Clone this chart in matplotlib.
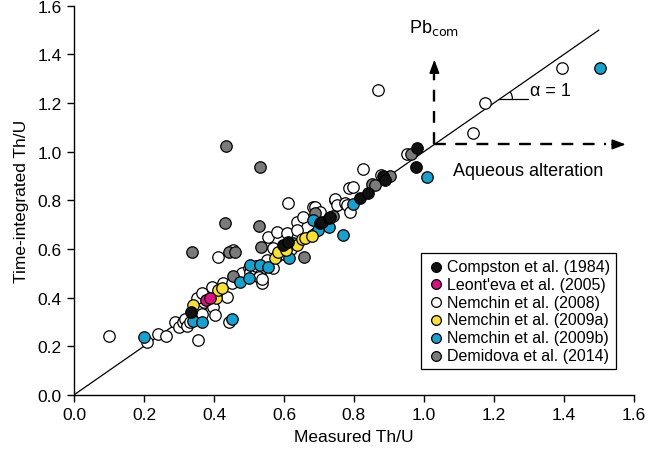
import matplotlib
matplotlib.use("Agg")
import matplotlib.pyplot as plt
from matplotlib.patches import Arc

plt.rcParams['font.family'] = ['Liberation Sans', 'DejaVu Sans']

# Compston et al. (1984)
comp_x = [0.334, 0.597, 0.611, 0.703, 0.709, 0.729, 0.731, 0.817, 0.840, 0.883, 0.889, 0.977, 0.980]
comp_y = [0.339, 0.616, 0.629, 0.706, 0.712, 0.727, 0.731, 0.808, 0.829, 0.900, 0.882, 0.939, 1.016]

# Leont'eva et al. (2005)
leon_x = [0.378, 0.388]
leon_y = [0.392, 0.398]

# Nemchin et al. (2008)
n08_x = [0.100, 0.209, 0.240, 0.263, 0.289, 0.300, 0.310, 0.317, 0.323, 0.330, 0.340, 0.354,
         0.360, 0.366, 0.370, 0.351, 0.366, 0.394, 0.397, 0.403, 0.420, 0.437, 0.443, 0.426,
         0.451, 0.411, 0.454, 0.470, 0.480, 0.500, 0.503, 0.520, 0.520, 0.531, 0.530, 0.537,
         0.537, 0.551, 0.569, 0.569, 0.580, 0.554, 0.580, 0.600, 0.600, 0.609, 0.617, 0.620,
         0.611, 0.637, 0.637, 0.654, 0.683, 0.689, 0.703, 0.746, 0.746, 0.751, 0.774, 0.780,
         0.789, 0.786, 0.797, 0.826, 0.869, 0.877, 0.951, 1.140, 1.174, 1.394]
n08_y = [0.241, 0.216, 0.249, 0.241, 0.298, 0.280, 0.300, 0.310, 0.282, 0.300, 0.340, 0.225,
         0.360, 0.331, 0.380, 0.400, 0.420, 0.445, 0.363, 0.327, 0.420, 0.404, 0.298, 0.461,
         0.461, 0.567, 0.596, 0.480, 0.500, 0.520, 0.506, 0.510, 0.530, 0.494, 0.485, 0.461,
         0.475, 0.555, 0.522, 0.604, 0.570, 0.649, 0.669, 0.600, 0.580, 0.665, 0.608, 0.600,
         0.788, 0.710, 0.678, 0.731, 0.771, 0.771, 0.751, 0.800, 0.804, 0.780, 0.788, 0.780,
         0.751, 0.849, 0.853, 0.927, 1.253, 0.906, 0.992, 1.078, 1.200, 1.343]

# Nemchin et al. (2009a)
n09a_x = [0.340, 0.407, 0.411, 0.423, 0.574, 0.583, 0.607, 0.637, 0.651, 0.660, 0.680]
n09a_y = [0.371, 0.400, 0.433, 0.440, 0.563, 0.588, 0.596, 0.616, 0.641, 0.645, 0.653]

# Nemchin et al. (2009b)
n09b_x = [0.200, 0.340, 0.366, 0.451, 0.474, 0.500, 0.503, 0.531, 0.554, 0.614, 0.626,
          0.683, 0.697, 0.729, 0.769, 0.797, 1.009, 1.503]
n09b_y = [0.237, 0.302, 0.298, 0.310, 0.465, 0.482, 0.535, 0.535, 0.527, 0.563, 0.624,
          0.718, 0.678, 0.690, 0.657, 0.784, 0.894, 1.343]

# Demidova et al. (2014)
dem_x = [0.434, 0.531, 0.431, 0.529, 0.337, 0.443, 0.460, 0.534, 0.657, 0.690, 0.740,
         0.454, 0.851, 0.860, 0.903, 0.963]
dem_y = [1.022, 0.937, 0.708, 0.696, 0.586, 0.588, 0.588, 0.608, 0.567, 0.747, 0.735,
         0.490, 0.869, 0.865, 0.898, 0.992]

series = [
    (n08_x, n08_y, "white", "Nemchin et al. (2008)"),
    (dem_x, dem_y, "#7a7a7a", "Demidova et al. (2014)"),
    (n09b_x, n09b_y, "#1aa0cc", "Nemchin et al. (2009b)"),
    (n09a_x, n09a_y, "#f7e03a", "Nemchin et al. (2009a)"),
    (leon_x, leon_y, "#d4147f", "Leont'eva et al. (2005)"),
    (comp_x, comp_y, "#111111", "Compston et al. (1984)"),
]
legend_order = ["Compston et al. (1984)", "Leont'eva et al. (2005)", "Nemchin et al. (2008)",
                "Nemchin et al. (2009a)", "Nemchin et al. (2009b)", "Demidova et al. (2014)"]

fig = plt.figure(figsize=(6.5, 4.56), dpi=100)
ax = fig.add_axes([0.114, 0.132, 0.861, 0.853])

ax.plot([0, 1.5], [0, 1.5], color="black", lw=0.9, zorder=1)

handles = {}
for xs, ys, c, lab in series:
    h = ax.scatter(xs, ys, s=68, c=c, edgecolors="black", linewidths=0.9, zorder=3, label=lab)
    handles[lab] = h

# dashed arrows
ax.plot([1.03, 1.03], [1.03, 1.34], ls=(0, (5, 4)), color="black", lw=1.7, zorder=2)
ax.plot([1.03, 1.52], [1.03, 1.03], ls=(0, (5, 4)), color="black", lw=1.7, zorder=2)
ax.annotate("", xy=(1.03, 1.39), xytext=(1.03, 1.33),
            arrowprops=dict(arrowstyle="-|>,head_length=0.8,head_width=0.3", color="black", lw=1.2))
ax.annotate("", xy=(1.585, 1.03), xytext=(1.53, 1.03),
            arrowprops=dict(arrowstyle="-|>,head_length=0.8,head_width=0.3", color="black", lw=1.2))

ax.text(1.03, 1.47, r"Pb$_{\rm com}$", fontsize=13, ha="center", va="bottom")
ax.text(1.083, 0.922, "Aqueous alteration", fontsize=13, ha="left", va="center")

# angle mark
ax.plot([1.216, 1.297], [1.216, 1.216], color="black", lw=0.9)
ax.add_patch(Arc((1.216, 1.216), 26 / 350, 26 / 245, theta1=0, theta2=45,
                 color="black", lw=0.9))
ax.text(1.302, 1.25, "α = 1", fontsize=13, ha="left", va="center")

ax.set_xlim(0, 1.6)
ax.set_ylim(0, 1.6)
ax.set_xticks([0.0, 0.2, 0.4, 0.6, 0.8, 1.0, 1.2, 1.4, 1.6])
ax.set_yticks([0.0, 0.2, 0.4, 0.6, 0.8, 1.0, 1.2, 1.4, 1.6])
ax.set_xticklabels([f"{v:.1f}" for v in ax.get_xticks()])
ax.set_yticklabels([f"{v:.1f}" for v in ax.get_yticks()])
ax.spines["top"].set_visible(False)
ax.spines["right"].set_visible(False)
for sp in ("left", "bottom"):
    ax.spines[sp].set_linewidth(1.0)
ax.tick_params(direction="out", length=5, width=1.0, labelsize=12.5, pad=4)
ax.set_xlabel("Measured Th/U", fontsize=12.5, labelpad=5)
ax.set_ylabel("Time-integrated Th/U", fontsize=12.5, labelpad=6)

leg = ax.legend([handles[l] for l in legend_order], legend_order, loc="lower right",
                bbox_to_anchor=(0.968, 0.067), fontsize=11.5, frameon=True, fancybox=False,
                edgecolor="black", framealpha=1, handletextpad=0.1, labelspacing=0.18,
                borderpad=0.35, handlelength=1.2, scatterpoints=1, markerscale=0.85,
                borderaxespad=0)
leg.get_frame().set_linewidth(0.9)

fig.savefig("out.png", dpi=100)
